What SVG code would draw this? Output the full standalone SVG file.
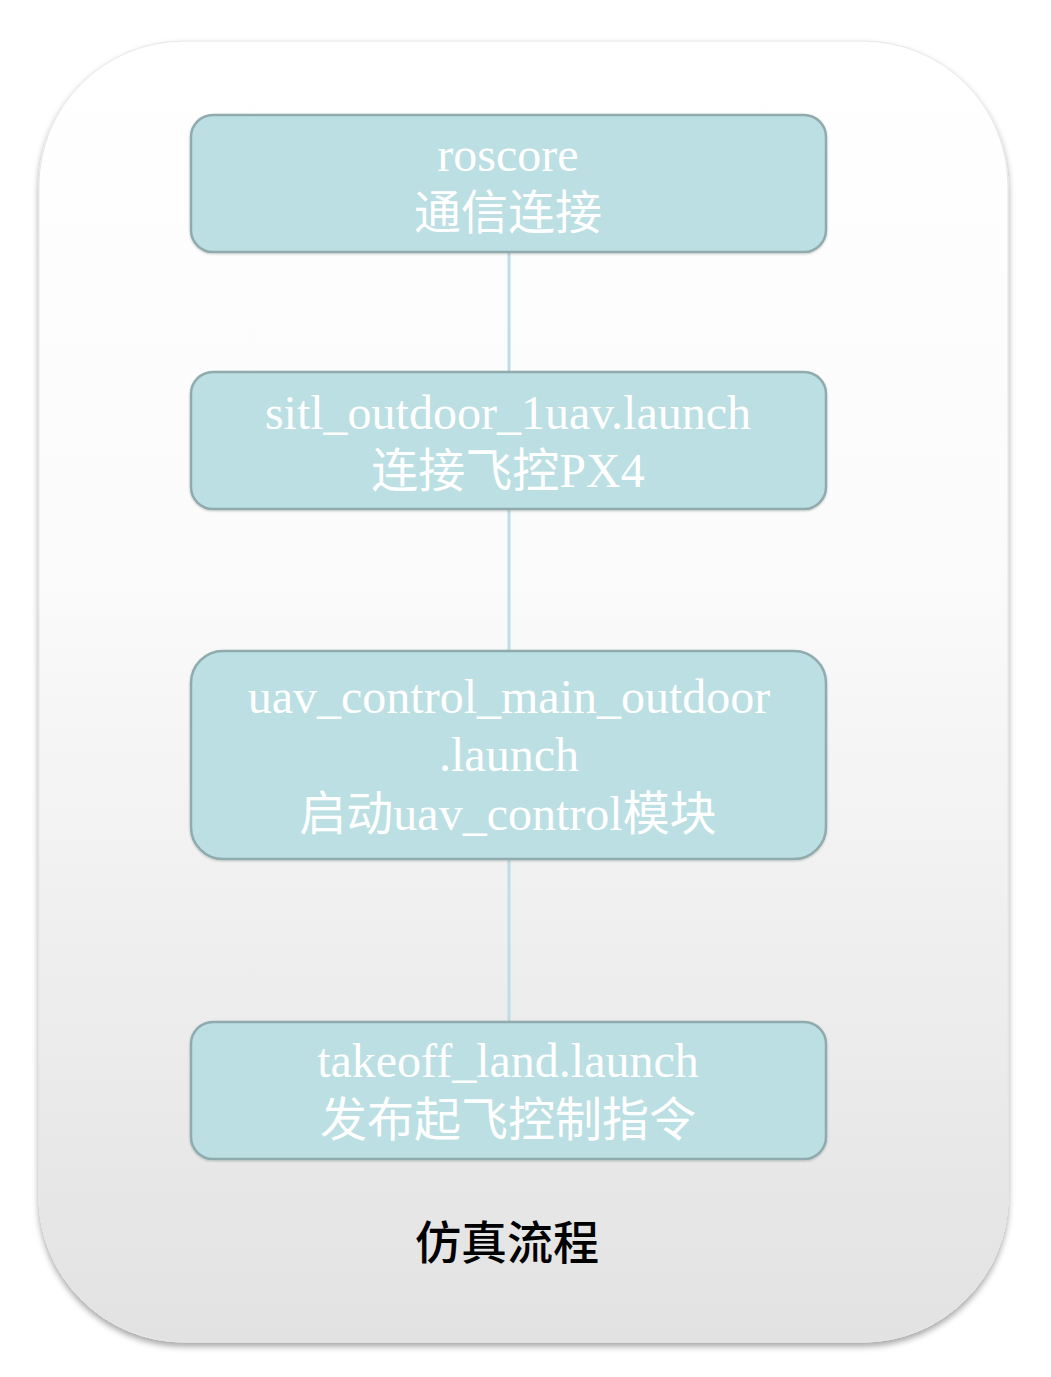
<svg xmlns="http://www.w3.org/2000/svg" width="1051" height="1377" viewBox="0 0 1051 1377">
<defs>
<linearGradient id="bg" x1="0" y1="0" x2="0" y2="1">
<stop offset="0" stop-color="#ffffff"/>
<stop offset="0.4" stop-color="#fbfbfb"/>
<stop offset="1" stop-color="#e2e2e2"/>
</linearGradient>
<filter id="sh" x="-10%" y="-10%" width="120%" height="120%">
<feDropShadow dx="0" dy="4" stdDeviation="3" flood-color="#000" flood-opacity="0.35"/>
</filter>
<filter id="bsh" x="-5%" y="-10%" width="110%" height="120%">
<feDropShadow dx="0" dy="1" stdDeviation="1" flood-color="#000" flood-opacity="0.2"/>
</filter>
<style>
.box{fill:#bbdfe2;stroke:#8fabad;stroke-width:2.5;filter:url(#bsh)}
.en{font-family:"Liberation Serif","Times New Roman",serif;font-size:48px;fill:#ffffff;text-anchor:middle}
.zh{font-family:"Noto Sans CJK SC","Noto Sans",sans-serif;font-size:47px;fill:#ffffff;text-anchor:middle;font-weight:400}
.zh tspan.s{font-family:"Liberation Serif","Times New Roman",serif;font-size:48px}
.title{font-family:"Noto Sans CJK SC","Noto Sans",sans-serif;font-size:46px;fill:#000;text-anchor:middle;font-weight:500}
.conn{stroke:#bbdfe2;stroke-width:3;fill:none}
</style>
</defs>
<g id="container">
<rect x="39" y="41" width="969" height="1301" rx="145" ry="145" fill="url(#bg)" stroke="#e6e6e6" stroke-width="1" filter="url(#sh)"/>
<text class="title" x="507" y="1259">仿真流程</text>
</g>
<g id="connectors">
<line class="conn" x1="509" y1="253" x2="509" y2="371"/>
<line class="conn" x1="509" y1="510" x2="509" y2="650"/>
<line class="conn" x1="509" y1="860" x2="509" y2="1021"/>
</g>
<g id="node1">
<rect class="box" x="191" y="115" width="635" height="137" rx="22"/>
<text class="en" x="508" y="171">roscore</text>
<text class="zh" x="508" y="229">通信连接</text>
</g>
<g id="node2">
<rect class="box" x="191" y="372" width="635" height="137" rx="22"/>
<text class="en" x="508" y="429">sitl_outdoor_1uav.launch</text>
<text class="zh" x="508" y="487">连接飞控<tspan class="s">PX4</tspan></text>
</g>
<g id="node3">
<rect class="box" x="191" y="651" width="635" height="208" rx="32"/>
<text class="en" x="509" y="713">uav_control_main_outdoor</text>
<text class="en" x="509" y="771">.launch</text>
<text class="zh" x="508" y="830">启动<tspan class="s">uav_control</tspan>模块</text>
</g>
<g id="node4">
<rect class="box" x="191" y="1022" width="635" height="137" rx="22"/>
<text class="en" x="508" y="1077">takeoff_land.launch</text>
<text class="zh" x="508" y="1136">发布起飞控制指令</text>
</g>
</svg>
